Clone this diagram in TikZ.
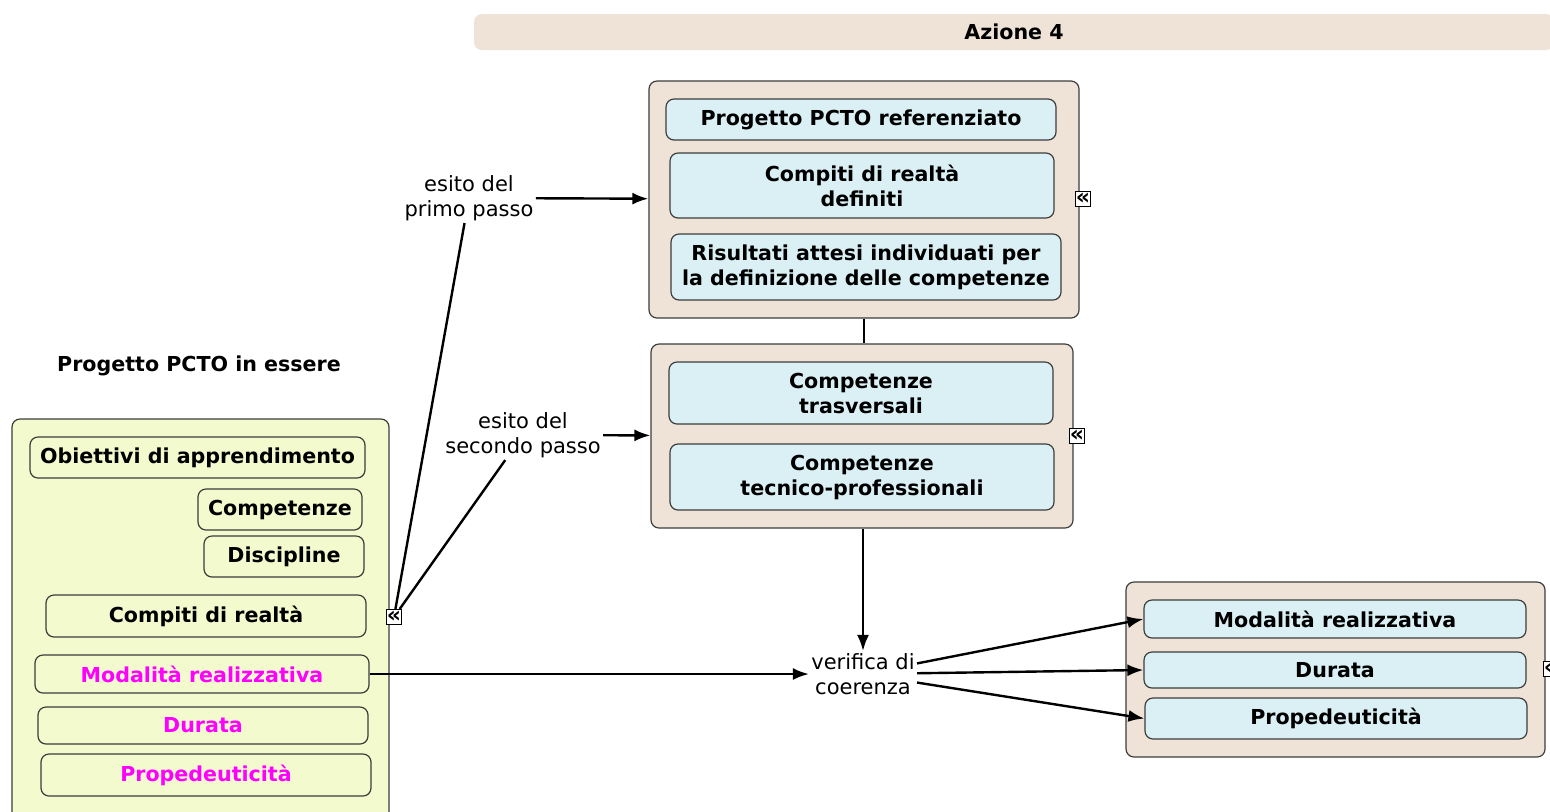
\documentclass[tikz,border=0pt]{standalone}
\usepackage{fontspec}
\setmainfont{DejaVu Sans}
\usepackage{xcolor}
\usepackage{tikz}
\usetikzlibrary{positioning,arrows.meta}

\definecolor{beige}{RGB}{239,227,216}
\definecolor{pale}{RGB}{218,240,245}
\definecolor{lime}{RGB}{243,250,205}
\definecolor{edge}{RGB}{60,60,60}
\definecolor{fuchsia}{RGB}{255,0,255}

\begin{document}
\begin{tikzpicture}[x=0.5pt,y=-0.5pt,>={Latex[length=8pt,width=6pt]},
  container/.style={draw=edge, line width=0.6pt, rounded corners=4pt, fill=beige},
  concept/.style={draw=edge, line width=0.6pt, rounded corners=4pt, fill=pale,
    font=\fontsize{10.3}{12.5}\selectfont\bfseries, align=center, inner sep=0pt},
  leftconcept/.style={concept, fill=lime},
  pinkconcept/.style={leftconcept, text=fuchsia},
  linklabel/.style={font=\fontsize{10.5}{12.5}\selectfont, align=center, inner sep=1pt},
  toggle/.style={draw=black, fill=white, line width=0.5pt, minimum size=7.5pt, inner sep=0pt,
    font=\fontsize{11}{11}\selectfont\bfseries}]
\useasboundingbox (0,0) rectangle (1550,811);

% banner
\node[fill=beige, rounded corners=4pt, minimum width=540pt, minimum height=18pt,
  font=\fontsize{10.3}{12.5}\selectfont\bfseries] (banner) at (1014,32) {Azione 4};

% top container
\node[container, minimum width=215pt, minimum height=118.5pt] (boxA) at (864,199.5) {};
\node[concept, minimum width=195pt, minimum height=20.5pt] (a1) at (861,119.5) {Progetto PCTO referenziato};
\node[concept, minimum width=192pt, minimum height=32.5pt] (a2) at (862,185.5) {Compiti di realtà\\definiti};
\node[concept, minimum width=195pt, minimum height=33pt] (a3) at (866,267) {Risultati attesi individuati per\\la definizione delle competenze};
\node[toggle] (iconA) at (1083,199) {«};

% middle container
\node[container, minimum width=211pt, minimum height=92pt] (boxB) at (862,436) {};
\node[concept, minimum width=192pt, minimum height=31pt] (b1) at (861,393) {Competenze\\trasversali};
\node[concept, minimum width=192pt, minimum height=33pt] (b2) at (862,477) {Competenze\\tecnico-professionali};
\node[toggle] (iconB) at (1077,436) {«};

% right container
\node[container, minimum width=209.5pt, minimum height=87.5pt] (boxC) at (1335.5,669.5) {};
\node[concept, minimum width=191pt, minimum height=19pt] (c1) at (1335,619) {Modalità realizzativa};
\node[concept, minimum width=191pt, minimum height=18pt] (c2) at (1335,670) {Durata};
\node[concept, minimum width=191pt, minimum height=20.5pt] (c3) at (1336,718.5) {Propedeuticità};
\node[toggle] (iconC) at (1551,669) {«};

% left container
\node[font=\fontsize{10.3}{12.5}\selectfont\bfseries] (title) at (199,366) {Progetto PCTO in essere};
\node[container, fill=lime, minimum width=188.5pt, minimum height=210pt] (boxL) at (200.5,629) {};
\node[leftconcept, minimum width=167.5pt, minimum height=20.5pt] (l1) at (197.5,457.5) {Obiettivi di apprendimento};
\node[leftconcept, minimum width=82pt, minimum height=20.5pt] (l2) at (280,509.5) {Competenze};
\node[leftconcept, minimum width=80pt, minimum height=20.5pt] (l3) at (284,556.5) {Discipline};
\node[leftconcept, minimum width=160pt, minimum height=21pt] (l4) at (206,616) {Compiti di realtà};
\node[pinkconcept, minimum width=167pt, minimum height=19pt] (l5) at (202,674) {Modalità realizzativa};
\node[pinkconcept, minimum width=165pt, minimum height=18.5pt] (l6) at (203,725.5) {Durata};
\node[pinkconcept, minimum width=165pt, minimum height=21pt] (l7) at (206,775) {Propedeuticità};
\node[toggle] (iconL) at (394,617) {«};

% link labels
\node[linklabel] (step1) at (469,198) {esito del\\primo passo};
\node[linklabel] (step2) at (523,435) {esito del\\secondo passo};
\node[linklabel] (check) at (863,674) {verifica di\\coerenza};

% connectors
\draw[line width=1.2pt] (iconL) -- (step1);
\draw[line width=1.2pt] (iconL) -- (step2);
\draw[line width=1.2pt][->] (step1) -- (boxA);
\draw[line width=1.2pt][->] (step2) -- (boxB);
\draw[line width=1.2pt] (boxA.south) -- (boxA.south |- boxB.north);
\draw[line width=1.2pt][->] (boxB.south -| check.north) -- (check.north);
\draw[line width=1.2pt][->] (l5) -- (check);
\draw[line width=1.2pt][->] (check) -- (c1.west);
\draw[line width=1.2pt][->] (check) -- (c2.west);
\draw[line width=1.2pt][->] (check) -- (c3.west);
\end{tikzpicture}
\end{document}
